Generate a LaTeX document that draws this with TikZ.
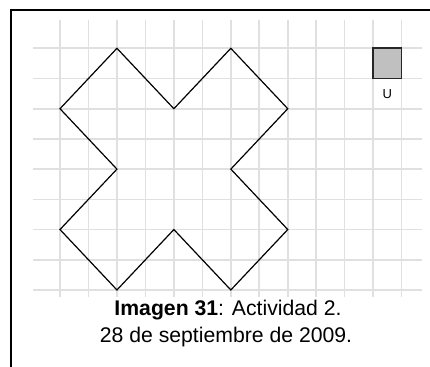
\documentclass[tikz,border=0pt]{standalone}
\usepackage{fontspec}
\setmainfont{Liberation Sans}
\usepackage{tikz}
\usetikzlibrary{positioning}

\definecolor{gridgray}{HTML}{E0E0E0}
\definecolor{unitgray}{HTML}{C0C0C0}

\begin{document}
\begin{tikzpicture}[x=0.5pt, y=-0.5pt,
    gridline/.style={gridgray, line width=0.8pt},
    figline/.style={black, line width=0.6pt, line join=miter},
    unitbox/.style={fill=unitgray, draw=black!85, line width=0.8pt}]
    \useasboundingbox (0,0) rectangle (430,367);

    % Frame (left and top only)
    \draw[line width=1pt] (11.5,367) -- (11.5,10.5) -- (430,10.5);

    % Grid, cell units
    \begin{scope}[xshift=30pt, yshift=-24.15pt, x=14.235pt, y=-15.105pt]
        \foreach \i in {0,...,12}
            \draw[gridline] (\i,-0.94) -- (\i,8.23);
        \foreach \j in {0,...,8}
            \draw[gridline] (-0.95,\j) -- (12.71,\j);

        % The cross
        \draw[figline] (2,0) -- (4,2) -- (6,0) -- (8,2) -- (6,4) -- (8,6)
            -- (6,8) -- (4,6) -- (2,8) -- (0,6) -- (2,4) -- (0,2) -- cycle;

        % Unit square
        \draw[unitbox] (11,0) rectangle (12,1);
        \node[font=\fontsize{6.5}{7}\selectfont, inner sep=0pt] (unitlabel) at (11.5,1.53) {U};
    \end{scope}

    % Caption
    \node[anchor=base, font=\fontsize{10.6}{13.5}\selectfont, inner sep=0pt] (captiontop)
        at (228,316) {\textbf{Imagen 31}: Actividad 2.};
    \node[anchor=base, font=\fontsize{10.6}{13.5}\selectfont, inner sep=0pt] (captionbottom)
        at (226,343) {28 de septiembre de 2009.};
\end{tikzpicture}
\end{document}
